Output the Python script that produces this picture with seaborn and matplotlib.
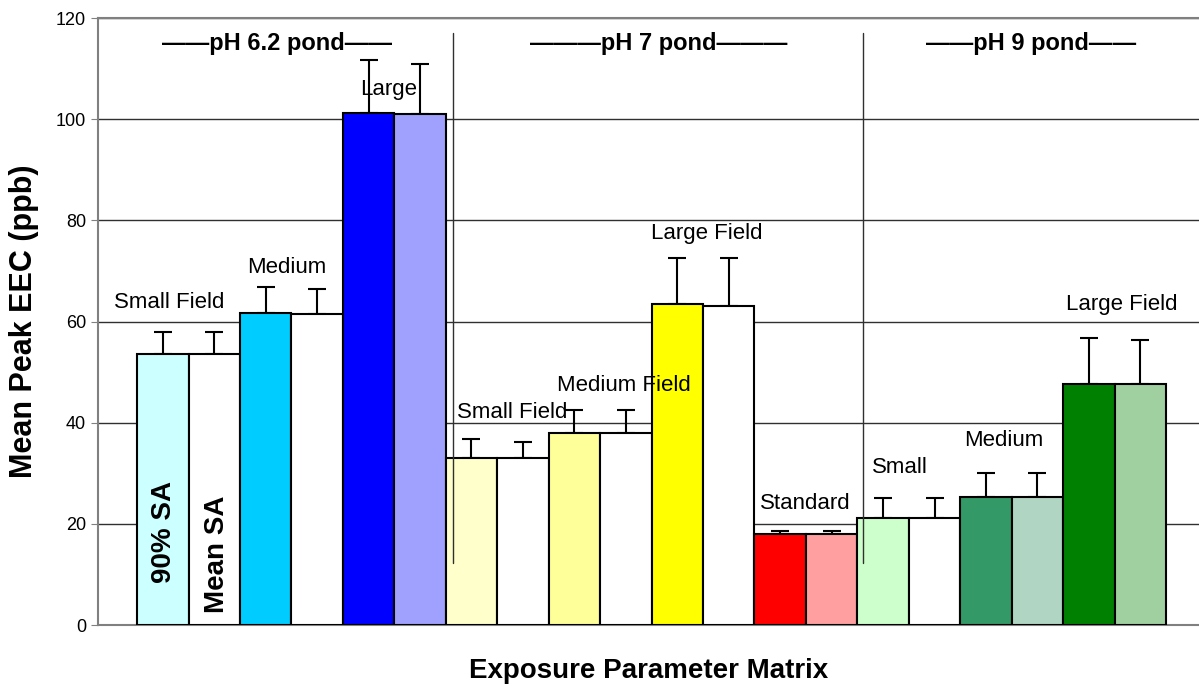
import numpy as np
import pandas as pd
import matplotlib
matplotlib.use('Agg')
import matplotlib.pyplot as plt
import seaborn as sns

# -------------------------------
# Data
# -------------------------------
bar_names = ['6.2 Small 90%', '6.2 Small Mean', '6.2 Medium 90%', '6.2 Medium Mean',
             '6.2 Large 90%', '6.2 Large Mean',
             '7 Small 90%', '7 Small Mean', '7 Medium 90%', '7 Medium Mean',
             '7 Large 90%', '7 Large Mean',
             '9 Standard 90%', '9 Standard Mean', '9 Small 90%', '9 Small Mean',
             '9 Medium 90%', '9 Medium Mean', '9 Large 90%', '9 Large Mean']
mean_eec = [53.6, 53.6, 61.7, 61.5, 101.2, 101.0,
            33.0, 33.0, 38.0, 38.0, 63.5, 63.1,
            18.0, 18.0, 21.2, 21.2, 25.3, 25.3, 47.6, 47.6]
err_upper = [4.3, 4.3, 5.1, 5.0, 10.5, 9.9,
             3.8, 3.2, 4.5, 4.5, 9.1, 9.5,
             0.6, 0.5, 3.9, 3.9, 4.7, 4.7, 9.1, 8.7]
bar_colors = ['#CCFFFF', '#FFFFFF', '#00CCFF', '#FFFFFF', '#0000FF', '#A0A0FF',
              '#FFFFCC', '#FFFFFF', '#FFFF99', '#FFFFFF', '#FFFF00', '#FFFFFF',
              '#FF0000', '#FF9F9F', '#CCFFCC', '#FFFFFF', '#339966', '#B0D6C3',
              '#008000', '#A0CFA0']

field_labels = ['Small Field', 'Medium', 'Large',
                'Small Field', 'Medium Field', 'Large Field',
                'Standard', 'Small', 'Medium', 'Large Field']
field_label_x = [0.12, 2.40, 4.38, 6.79, 8.97, 10.58, 12.48, 14.33, 16.35, 18.63]
field_label_y = [63.7, 70.6, 105.8, 42.1, 47.3, 77.5, 24.1, 31.2, 36.4, 63.3]

pond_labels = ['\u2014\u2014pH 6.2 pond\u2014\u2014', '\u2014\u2014\u2014pH 7 pond\u2014\u2014\u2014',
               '\u2014\u2014pH 9 pond\u2014\u2014']
pond_label_x = [2.22, 9.63, 16.88]
separator_x = [5.64, 13.61]

df = pd.DataFrame({'bar': bar_names, 'eec': mean_eec})

# -------------------------------
# Plot
# -------------------------------
sns.set_style('white')
plt.rcParams['font.family'] = ['Liberation Sans', 'DejaVu Sans']
plt.rcParams['text.color'] = 'black'
plt.rcParams['axes.labelcolor'] = 'black'
plt.rcParams['ytick.color'] = 'black'

fig = plt.figure(figsize=(11.99, 6.96), dpi=100)
ax = fig.add_axes([0.0817, 0.102, 0.9183, 0.872])

sns.barplot(data=df, x='bar', y='eec', hue='bar', palette=bar_colors,
            order=bar_names, hue_order=bar_names, width=1.0, legend=False,
            saturation=1, edgecolor='black', linewidth=1.5, ax=ax, zorder=3)

xpos = np.arange(len(mean_eec))
ax.errorbar(xpos, mean_eec, yerr=[np.zeros(len(err_upper)), err_upper],
            fmt='none', ecolor='black', elinewidth=1.5, capsize=6.5, capthick=1.5,
            zorder=2)

ax.set_xlim(-1.26, 20.14)
ax.set_ylim(0, 120)
ax.set_yticks(np.arange(0, 121, 20))
ax.set_xticks([])
ax.yaxis.grid(True, color='#303030', linewidth=1.0, zorder=0)
ax.set_axisbelow(True)
ax.tick_params(axis='y', labelsize=13, length=5, left=True, color='#808080', labelcolor='black')
for side in ['left', 'top', 'bottom']:
    ax.spines[side].set_color('#808080')
    ax.spines[side].set_linewidth(1.5)
ax.spines['right'].set_visible(False)

ax.set_ylabel('Mean Peak EEC (ppb)', fontsize=22, fontweight='bold', labelpad=12)
ax.set_xlabel('Exposure Parameter Matrix', fontsize=20, fontweight='bold', labelpad=24)

# separators between pond groups
for sx in separator_x:
    ax.plot([sx, sx], [12.3, 117], color='#303030', linewidth=1.0, zorder=4)

# pond headers
for lbl, px in zip(pond_labels, pond_label_x):
    ax.text(px, 114.9, lbl, ha='center', va='center', fontsize=17, fontweight='bold', zorder=5)

# field size labels
for lbl, fx, fy in zip(field_labels, field_label_x, field_label_y):
    ax.text(fx, fy, lbl, ha='center', va='center', fontsize=16, zorder=5)

# in-bar legend text
ax.text(0.02, 18.4, '90% SA', rotation=90, ha='center', va='center',
        fontsize=20, fontweight='bold', zorder=5)
ax.text(1.05, 14.0, 'Mean SA', rotation=90, ha='center', va='center',
        fontsize=20, fontweight='bold', zorder=5)

plt.savefig('out.png', dpi=100)
plt.close()
